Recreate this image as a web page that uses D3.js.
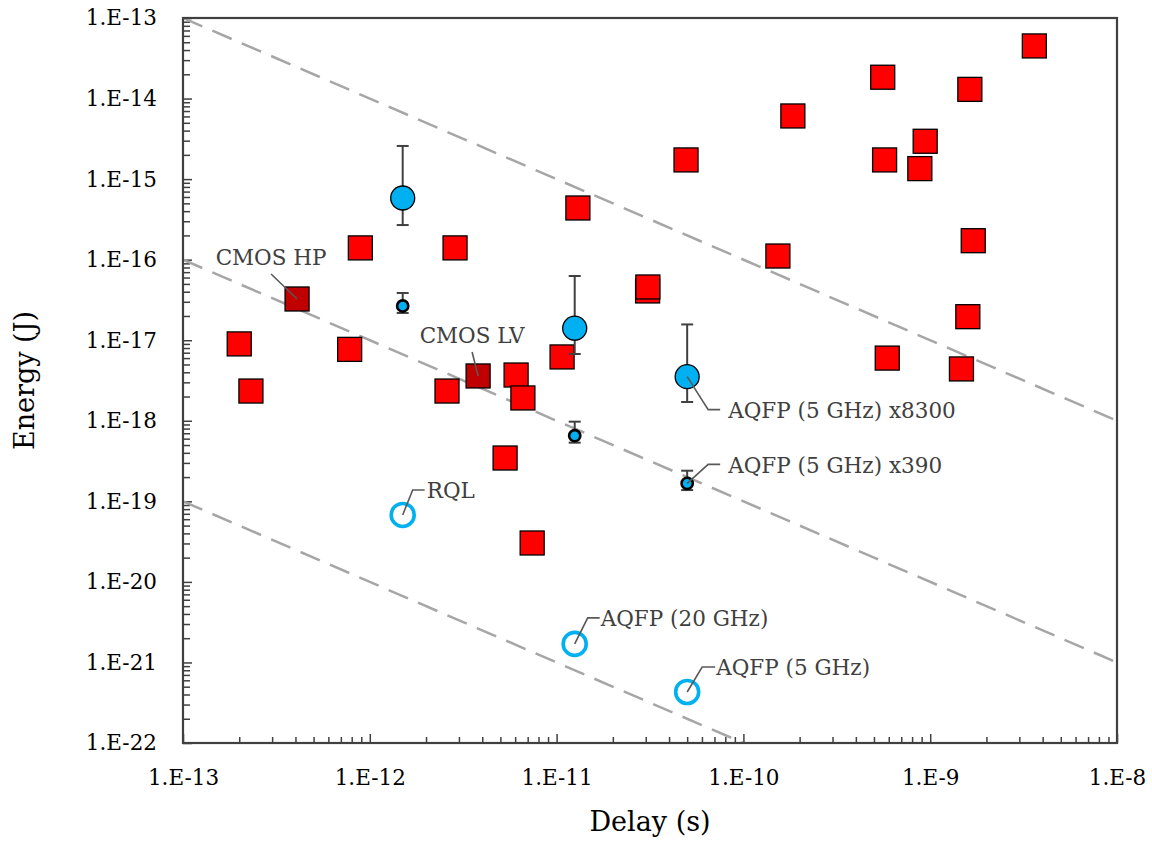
<!DOCTYPE html>
<html>
<head>
<meta charset="utf-8">
<title>Energy vs delay</title>
<script src="https://cdnjs.cloudflare.com/ajax/libs/d3/7.8.5/d3.min.js"></script>
<style>
  body { margin: 0; background: #fff; }
  svg { display: block; font-family: "DejaVu Serif", serif; }
</style>
</head>
<body>
<script>
// --- data (delay in s, energy in J) ---
var redDelay  = [2.0e-13, 2.31e-13, 7.8e-13, 8.9e-13, 2.86e-12, 2.59e-12, 6.07e-12, 6.6e-12,
                 5.3e-12, 7.4e-12, 1.07e-11, 1.30e-11, 3.07e-11, 3.08e-11, 4.93e-11, 1.53e-10,
                 1.84e-10, 5.57e-10, 5.7e-10, 5.89e-10, 9.4e-10, 8.8e-10, 1.63e-9, 1.70e-9,
                 1.59e-9, 1.47e-9, 3.61e-9];
var redEnergy = [9.0e-18, 2.34e-18, 7.7e-18, 1.40e-16, 1.40e-16, 2.34e-18, 3.7e-18, 1.92e-18,
                 3.45e-19, 3.04e-20, 6.2e-18, 4.38e-16, 4.09e-17, 4.58e-17, 1.73e-15, 1.11e-16,
                 6.08e-15, 1.84e-14, 1.73e-15, 6.0e-18, 2.95e-15, 1.35e-15, 1.30e-14, 1.72e-16,
                 1.96e-17, 4.4e-18, 4.5e-14];

var cmosNames  = ["CMOS HP", "CMOS LV"];
var cmosDelay  = [4.08e-13, 3.8e-12];
var cmosEnergy = [3.25e-17, 3.6e-18];

var aqfpDelay    = [1.5e-12, 1.25e-11, 5e-11];
var bigEnergy    = [5.83e-16, 1.41e-17, 3.53e-18];
var bigErrHi     = [2.58e-15, 6.27e-17, 1.57e-17];
var bigErrLo     = [2.69e-16, 6.75e-18, 1.71e-18];
var smallEnergy  = [2.66e-17, 6.53e-19, 1.67e-19];
var smallErrHi   = [3.86e-17, 9.75e-19, 2.4e-19];
var smallErrLo   = [2.18e-17, 5.35e-19, 1.38e-19];
var openEnergy   = [6.78e-20, 1.70e-21, 4.3e-22];
var openNames    = ["RQL", "AQFP (20 GHz)", "AQFP (5 GHz)"];
var bigNames     = ["AQFP (5 GHz) x8300"];
var smallNames   = ["AQFP (5 GHz) x390"];

// constant energy-delay products (J*s) for the dashed guides
var edProducts = [1e-26, 1e-29, 1e-32];

var xTickLabels = ["1.E-13", "1.E-12", "1.E-11", "1.E-10", "1.E-9", "1.E-8"];
var yTickLabels = ["1.E-13", "1.E-14", "1.E-15", "1.E-16", "1.E-17", "1.E-18",
                   "1.E-19", "1.E-20", "1.E-21", "1.E-22"];

// --- layout ---
var w = 1152, h = 842;
var pLeft = 183, pRight = 1117, pTop = 18, pBottom = 743;

var svg = d3.select("body").append("svg")
    .attr("width", w)
    .attr("height", h);

var x = d3.scaleLog().domain([1e-13, 1e-8]).range([pLeft, pRight]);
var y = d3.scaleLog().domain([1e-22, 1e-13]).range([pBottom, pTop]);

var xMajor = xTickLabels.map(function(d) { return +d.replace(".E", "e"); });
var yMajor = yTickLabels.map(function(d) { return +d.replace(".E", "e"); });

function minors(majors) {
    var out = [];
    majors.forEach(function(m) {
        for (var k = 2; k <= 9; k++) out.push(m * k);
    });
    return out;
}
var xMinor = minors(xMajor).filter(function(v) { return v < 1e-8; });
var yMinor = minors(yMajor).filter(function(v) { return v < 1e-13; });

function styleAxis(g) {
    g.select(".domain").remove();
    g.attr("font-family", null).attr("font-size", null);
    g.selectAll(".tick line").attr("stroke", "#404040").attr("stroke-width", 1.5);
    g.selectAll(".tick text")
        .attr("fill", "#000")
        .attr("font-family", "DejaVu Serif, serif")
        .attr("font-size", 21.5);
}

// minor ticks (inside)
svg.append("g")
    .attr("transform", "translate(0," + pBottom + ")")
    .call(d3.axisBottom(x).tickValues(xMinor).tickSize(-6).tickFormat(""))
    .call(styleAxis);
svg.append("g")
    .attr("transform", "translate(" + pLeft + ",0)")
    .call(d3.axisLeft(y).tickValues(yMinor).tickSize(-7).tickFormat(""))
    .call(styleAxis);

// major ticks + labels
svg.append("g")
    .attr("transform", "translate(0," + pBottom + ")")
    .call(d3.axisBottom(x).tickValues(xMajor).tickSize(-9).tickPadding(27)
        .tickFormat(function(d, i) { return xTickLabels[i]; }))
    .call(styleAxis);
svg.append("g")
    .attr("transform", "translate(" + pLeft + ",0)")
    .call(d3.axisLeft(y).tickValues(yMajor).tickSize(-9).tickPadding(26)
        .tickFormat(function(d, i) { return yTickLabels[i]; }))
    .call(styleAxis);

// clip region
svg.append("clipPath").attr("id", "plot")
    .append("rect")
    .attr("x", pLeft).attr("y", pTop)
    .attr("width", pRight - pLeft).attr("height", pBottom - pTop);

var plot = svg.append("g").attr("clip-path", "url(#plot)");

// dashed guides E = k / t
var line = d3.line()
    .x(function(d) { return x(d[0]); })
    .y(function(d) { return y(d[1]); });

plot.selectAll("path.guide")
    .data(edProducts)
    .enter().append("path")
    .attr("class", "guide")
    .attr("d", function(k) { return line([[1e-13, k / 1e-13], [1e-8, k / 1e-8]]); })
    .attr("fill", "none")
    .attr("stroke", "#a6a6a6")
    .attr("stroke-width", 2.5)
    .attr("stroke-dasharray", "21,11");

// squares
var sq = 24;
var reds = redDelay.map(function(d, i) { return [d, redEnergy[i]]; });
plot.selectAll("rect.red")
    .data(reds)
    .enter().append("rect")
    .attr("class", "red")
    .attr("x", function(d) { return x(d[0]) - sq / 2; })
    .attr("y", function(d) { return y(d[1]) - sq / 2; })
    .attr("width", sq).attr("height", sq)
    .attr("fill", "#ff0000")
    .attr("stroke", "#000")
    .attr("stroke-width", 1.3);

var cmos = cmosDelay.map(function(d, i) { return [d, cmosEnergy[i]]; });
plot.selectAll("rect.cmos")
    .data(cmos)
    .enter().append("rect")
    .attr("class", "cmos")
    .attr("x", function(d) { return x(d[0]) - sq / 2; })
    .attr("y", function(d) { return y(d[1]) - sq / 2; })
    .attr("width", sq).attr("height", sq)
    .attr("fill", "#c00000")
    .attr("stroke", "#000")
    .attr("stroke-width", 1.3);

// error bars
function errorBars(cls, hi, lo, cap) {
    var g = plot.append("g").attr("class", cls)
        .attr("stroke", "#404040").attr("stroke-width", 2).attr("fill", "none");
    aqfpDelay.forEach(function(t, i) {
        var cx = x(t);
        g.append("line").attr("x1", cx).attr("x2", cx).attr("y1", y(hi[i])).attr("y2", y(lo[i]));
        g.append("line").attr("x1", cx - cap).attr("x2", cx + cap).attr("y1", y(hi[i])).attr("y2", y(hi[i]));
        g.append("line").attr("x1", cx - cap).attr("x2", cx + cap).attr("y1", y(lo[i])).attr("y2", y(lo[i]));
    });
}
errorBars("err-big", bigErrHi, bigErrLo, 6);
errorBars("err-small", smallErrHi, smallErrLo, 6);

// blue markers
plot.selectAll("circle.big")
    .data(bigEnergy)
    .enter().append("circle")
    .attr("class", "big")
    .attr("cx", function(d, i) { return x(aqfpDelay[i]); })
    .attr("cy", function(d) { return y(d); })
    .attr("r", 12)
    .attr("fill", "#00b0f0")
    .attr("stroke", "#000")
    .attr("stroke-width", 1.3);

plot.selectAll("circle.small")
    .data(smallEnergy)
    .enter().append("circle")
    .attr("class", "small")
    .attr("cx", function(d, i) { return x(aqfpDelay[i]); })
    .attr("cy", function(d) { return y(d); })
    .attr("r", 5.6)
    .attr("fill", "#00b0f0")
    .attr("stroke", "#000")
    .attr("stroke-width", 2.6);

plot.selectAll("circle.open")
    .data(openEnergy)
    .enter().append("circle")
    .attr("class", "open")
    .attr("cx", function(d, i) { return x(aqfpDelay[i]); })
    .attr("cy", function(d) { return y(d); })
    .attr("r", 11.5)
    .attr("fill", "none")
    .attr("stroke", "#00b0f0")
    .attr("stroke-width", 3.6);

// frame
svg.append("rect")
    .attr("x", pLeft).attr("y", pTop)
    .attr("width", pRight - pLeft).attr("height", pBottom - pTop)
    .attr("fill", "none")
    .attr("stroke", "#404040")
    .attr("stroke-width", 2.2);

// annotations: [x, y, elbow dx, elbow dy, horizontal run, text, anchor, gap]
var notes = [
    [cmosDelay[0], cmosEnergy[0], -26, -25, 0, cmosNames[0], "middle", 0],
    [cmosDelay[1], cmosEnergy[1], -6, -24, 0, cmosNames[1], "middle", 0],
    [aqfpDelay[2], bigEnergy[2], 21, 33, 12, bigNames[0], "start", 8],
    [aqfpDelay[2], smallEnergy[2], 21, -19, 12, smallNames[0], "start", 8],
    [aqfpDelay[0], openEnergy[0], 10, -25, 12, openNames[0], "start", 2],
    [aqfpDelay[1], openEnergy[1], 13, -26, 12, openNames[1], "start", 1],
    [aqfpDelay[2], openEnergy[2], 15, -25, 13, openNames[2], "start", 1]
];

var ann = svg.append("g").attr("class", "notes");
notes.forEach(function(n) {
    var px = x(n[0]), py = y(n[1]);
    var ex = px + n[2], ey = py + n[3];
    var pts = [[px, py], [ex, ey]];
    if (n[4]) pts.push([ex + n[4], ey]);
    ann.append("path")
        .attr("d", "M" + pts.map(function(p) { return p.join(","); }).join("L"))
        .attr("fill", "none")
        .attr("stroke", "#595959")
        .attr("stroke-width", 1.6);
    var t = ann.append("text")
        .attr("fill", "#404040")
        .attr("font-size", 21.5)
        .text(n[5]);
    if (n[6] === "middle") {
        t.attr("x", ex).attr("y", ey - 9).attr("text-anchor", "middle");
    } else {
        t.attr("x", ex + n[4] + n[7]).attr("y", ey + 8.5);
    }
});

// axis titles
svg.append("text")
    .attr("x", (pLeft + pRight) / 2)
    .attr("y", 831)
    .attr("text-anchor", "middle")
    .attr("font-size", 27)
    .text("Delay (s)");

svg.append("text")
    .attr("transform", "translate(34," + (pTop + pBottom) / 2 + ") rotate(-90)")
    .attr("text-anchor", "middle")
    .attr("font-size", 27)
    .text("Energy (J)");
</script>
</body>
</html>
